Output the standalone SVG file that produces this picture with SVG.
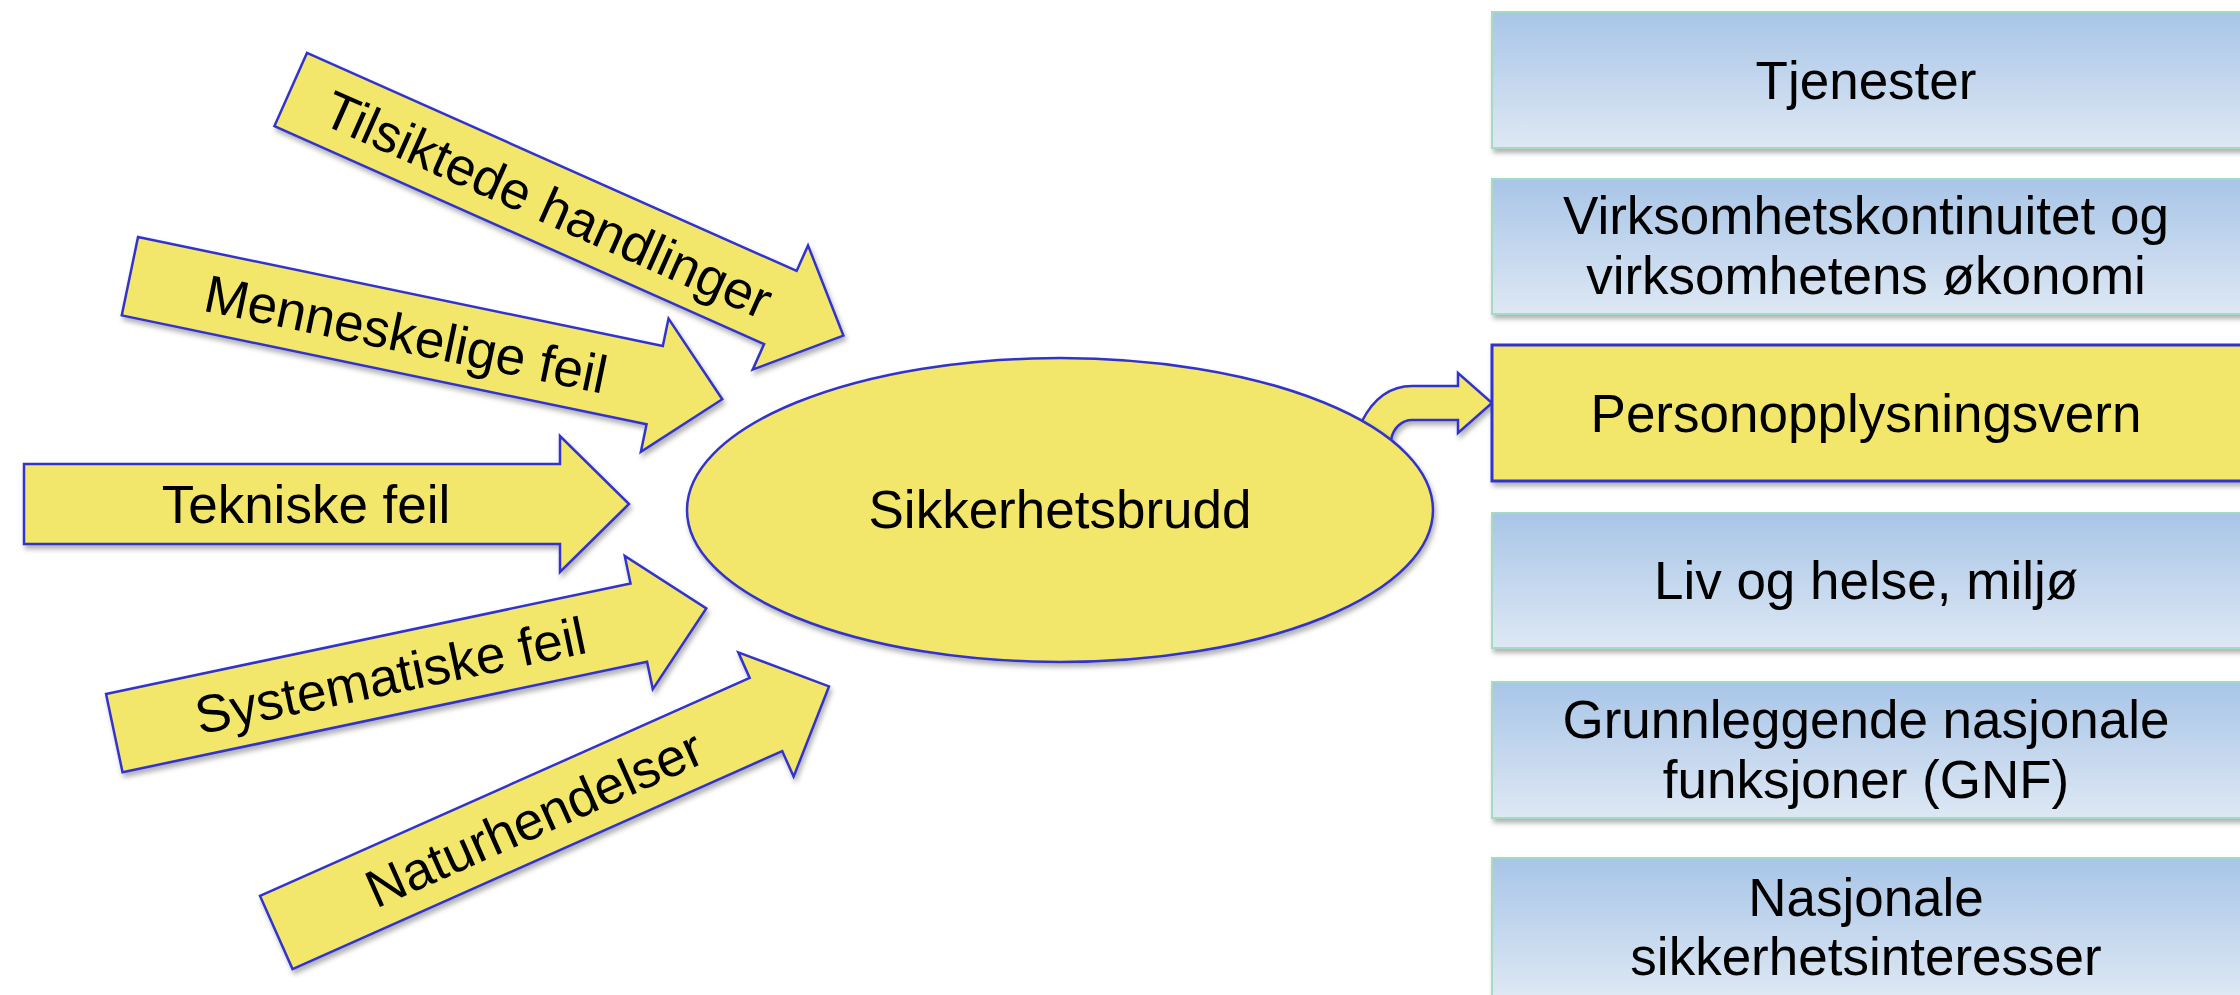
<svg xmlns="http://www.w3.org/2000/svg" width="2240" height="995" viewBox="0 0 2240 995">
<defs>
<linearGradient id="blueGrad" x1="0" y1="0" x2="0" y2="1">
<stop offset="0" stop-color="#a8c5e7"/>
<stop offset="1" stop-color="#dee8f4"/>
</linearGradient>
<filter id="shadow" x="-10%" y="-10%" width="130%" height="140%">
<feDropShadow dx="2" dy="4" stdDeviation="2.5" flood-color="#000" flood-opacity="0.3"/>
</filter>
<path id="arrowShape" d="M0,-40 H536 V-68 L605,0 L536,68 V40 H0 Z"/>
</defs>
<style>
.yel { fill:#f2e76a; stroke:#3333cc; stroke-width:2.5; stroke-linejoin:miter; }
.box-yel { fill:#f2e76a; stroke:#3333cc; stroke-width:3; }
.blue { fill:url(#blueGrad); stroke:#a3dcc3; stroke-width:2; }
text { font-family:"Liberation Sans", Arial, sans-serif; font-size:53px; fill:#000; text-anchor:middle; }
</style>
<rect width="2240" height="995" fill="#ffffff"/>

<g id="connectors">
<g filter="url(#shadow)">
<path class="yel" d="M1352,440 L1362,421 C1374,398 1390,386 1412,386 H1458 V373 L1492,403 L1458,433 V420 H1412 C1402,420 1393,428 1391,440 L1380,452 Z"/>
</g>
</g>

<g id="tilsiktede">
<g filter="url(#shadow)"><use href="#arrowShape" class="yel" transform="translate(290.7,89.5) rotate(24)"/></g>
<text transform="translate(290.7,89.5) rotate(24)" x="282" y="19">Tilsiktede handlinger</text>
</g>

<g id="menneskelige">
<g filter="url(#shadow)"><use href="#arrowShape" class="yel" transform="translate(129.9,276.2) rotate(11.73)"/></g>
<text transform="translate(129.9,276.2) rotate(11.73)" x="282" y="19">Menneskelige feil</text>
</g>

<g id="tekniske">
<g filter="url(#shadow)"><use href="#arrowShape" class="yel" transform="translate(24,504)"/></g>
<text transform="translate(24,504)" x="282" y="19">Tekniske feil</text>
</g>

<g id="systematiske">
<g filter="url(#shadow)"><use href="#arrowShape" class="yel" transform="translate(114.3,733.1) rotate(-11.9)"/></g>
<text transform="translate(114.3,733.1) rotate(-11.9)" x="282" y="19">Systematiske feil</text>
</g>

<g id="naturhendelser">
<g filter="url(#shadow)"><use href="#arrowShape" class="yel" transform="translate(276.3,932.5) rotate(-24)"/></g>
<text transform="translate(276.3,932.5) rotate(-24)" x="282" y="19">Naturhendelser</text>
</g>

<g id="sikkerhetsbrudd">
<ellipse class="yel" cx="1060" cy="510" rx="373" ry="152" filter="url(#shadow)"/>
<text x="1060" y="528">Sikkerhetsbrudd</text>
</g>

<g id="tjenester">
<rect class="blue" x="1492" y="12" width="760" height="136" filter="url(#shadow)"/>
<text x="1866" y="99">Tjenester</text>
</g>

<g id="virksomhet">
<rect class="blue" x="1492" y="179" width="760" height="135" filter="url(#shadow)"/>
<text x="1866" y="234">Virksomhetskontinuitet og</text>
<text x="1866" y="294">virksomhetens økonomi</text>
</g>

<g id="personopplysningsvern">
<rect class="box-yel" x="1492" y="345" width="760" height="136" filter="url(#shadow)"/>
<text x="1866" y="432">Personopplysningsvern</text>
</g>

<g id="liv">
<rect class="blue" x="1492" y="513" width="760" height="135" filter="url(#shadow)"/>
<text x="1866" y="599">Liv og helse, miljø</text>
</g>

<g id="gnf">
<rect class="blue" x="1492" y="682" width="760" height="136" filter="url(#shadow)"/>
<text x="1866" y="738">Grunnleggende nasjonale</text>
<text x="1866" y="798">funksjoner (GNF)</text>
</g>

<g id="nasjonale">
<rect class="blue" x="1492" y="858" width="760" height="140" filter="url(#shadow)"/>
<text x="1866" y="916">Nasjonale</text>
<text x="1866" y="975">sikkerhetsinteresser</text>
</g>
</svg>
